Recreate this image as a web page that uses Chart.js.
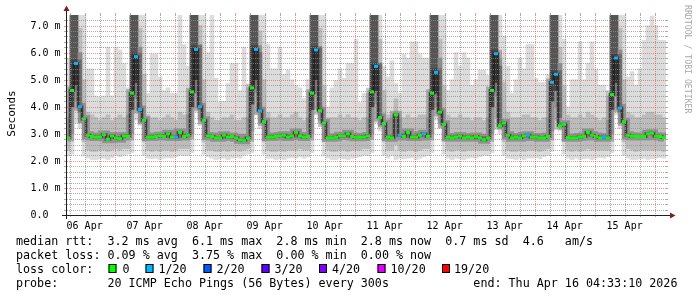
<!DOCTYPE html>
<html>
<head>
<meta charset="utf-8">
<script src="https://cdn.jsdelivr.net/npm/chart.js@4.4.1/dist/chart.umd.min.js"></script>
<style>
    html, body { margin: 0; padding: 0; background: #fff; }
    #wrap { width: 697px; height: 297px; }
</style>
</head>
<body>
<div id="wrap"><canvas id="grafico" width="697" height="297"></canvas></div>
<script>
// start of graph: 06 Apr 04:33:10, hours counted from 06 Apr 00:00
const T0 = 4 + 33 / 60 + 10 / 3600;
const STEP = 1.6;
const Y_MAX = 7.39;

const dayLabels = ['06 Apr','07 Apr','08 Apr','09 Apr','10 Apr','11 Apr','12 Apr','13 Apr','14 Apr','15 Apr'];
const yTicks = [0, 1, 2, 3, 4, 5, 6, 7];

// median rtt (ms), one value per 1.6 h
const median = [
    2.85, 4.6, 5.6, 4.0, 3.55, 2.95, 2.9, 2.88, 2.88, 2.97, 2.8, 2.92, 2.85, 2.82, 2.92,
    2.9, 4.5, 5.85, 3.9, 3.5, 2.88, 2.88, 2.9, 2.93, 2.9, 3.0, 2.88, 2.88, 3.05, 2.9,
    2.95, 4.55, 6.12, 4.0, 3.5, 2.92, 2.9, 2.85, 2.85, 2.95, 2.88, 2.9, 2.85, 2.78, 2.76,
    2.85, 4.7, 6.12, 3.85, 3.45, 2.88, 2.88, 2.9, 2.92, 2.95, 2.88, 2.92, 3.05, 2.92, 2.88,
    2.9, 4.5, 6.1, 3.85, 3.4, 2.85, 2.85, 2.87, 2.93, 2.92, 3.0, 2.9, 2.87, 2.87, 2.88,
    2.92, 4.55, 5.49, 3.6, 3.38, 2.88, 2.85, 3.7, 2.95, 2.9, 3.05, 2.88, 2.88, 2.95, 3.0,
    2.9, 4.5, 5.27, 3.8, 3.35, 2.88, 2.85, 2.88, 2.92, 2.85, 2.88, 2.85, 2.9, 2.85, 2.78,
    2.85, 4.6, 5.96, 3.3, 3.4, 2.95, 2.85, 2.88, 2.85, 2.92, 2.95, 2.88, 2.88, 2.85, 2.85,
    2.9, 4.9, 5.2, 3.3, 3.35, 2.86, 2.85, 2.85, 2.88, 2.9, 3.05, 2.95, 2.9, 2.85, 2.88,
    2.85, 4.45, 5.8, 3.95, 3.45, 2.95, 2.91, 2.9, 2.9, 2.9, 3.0, 3.02, 2.91, 2.9, 2.86
];

// samples with 1/20 packet loss
const loss1 = [2, 3, 17, 18, 27, 32, 33, 47, 48, 62, 77, 83, 89, 92, 107, 115, 121, 122, 134, 137, 138];

// smoke: lowest ping, lower / upper inner band, highest ping
const smokeLo = [
    2.2, 2.25, 3.4, 3.2, 2.2, 2.1, 2.05, 2.05, 2.08, 2.1, 2.05, 2.12, 2.2, 2.15, 2.2,
    2.25, 2.3, 3.5, 3.3, 2.2, 2.1, 2.08, 2.1, 2.05, 2.1, 2.12, 2.1, 2.15, 2.2, 2.2,
    2.2, 2.3, 3.8, 3.3, 2.25, 2.15, 2.1, 2.05, 2.08, 2.1, 2.05, 2.1, 2.12, 2.1, 2.2,
    2.25, 2.3, 3.7, 3.2, 2.25, 2.1, 2.1, 2.05, 2.08, 2.05, 2.1, 2.12, 2.1, 2.15, 2.1,
    2.15, 2.3, 3.9, 3.4, 2.2, 2.1, 2.05, 2.05, 2.1, 2.08, 2.05, 2.1, 2.12, 2.15, 2.2,
    2.2, 2.3, 3.4, 3.1, 2.2, 2.1, 2.2, 2.05, 2.1, 2.08, 2.1, 2.12, 2.05, 2.1, 2.15,
    2.2, 2.3, 3.5, 3.2, 2.25, 2.1, 2.05, 2.1, 2.08, 2.05, 2.1, 2.12, 2.1, 2.15, 2.2,
    2.2, 2.3, 3.6, 3.0, 2.2, 2.1, 2.08, 2.05, 2.1, 2.05, 2.1, 2.1, 2.12, 2.08, 2.15,
    2.2, 2.35, 3.5, 3.1, 2.25, 2.1, 2.05, 2.1, 2.05, 2.08, 2.1, 2.05, 2.1, 2.12, 2.1,
    2.15, 2.3, 3.7, 3.2, 2.2, 2.1, 2.05, 2.05, 2.08, 2.1, 2.05, 2.08, 2.1, 2.12, 2.1
];
const smokeQ1 = [
    2.4, 3.0, 4.2, 3.4, 2.7, 2.4, 2.35, 2.35, 2.4, 2.4, 2.35, 2.4, 2.45, 2.4, 2.45,
    2.45, 3.0, 4.3, 3.4, 2.7, 2.4, 2.35, 2.4, 2.35, 2.4, 2.4, 2.35, 2.4, 2.45, 2.45,
    2.45, 3.0, 4.5, 3.5, 2.7, 2.4, 2.4, 2.35, 2.35, 2.4, 2.35, 2.4, 2.4, 2.35, 2.4,
    2.45, 3.1, 4.5, 3.4, 2.7, 2.4, 2.35, 2.35, 2.4, 2.35, 2.4, 2.4, 2.4, 2.45, 2.4,
    2.4, 3.0, 4.5, 3.5, 2.7, 2.4, 2.35, 2.35, 2.4, 2.4, 2.35, 2.4, 2.4, 2.4, 2.45,
    2.45, 3.0, 4.1, 3.3, 2.7, 2.4, 2.4, 2.6, 2.4, 2.35, 2.4, 2.4, 2.35, 2.4, 2.45,
    2.45, 3.0, 4.0, 3.4, 2.7, 2.4, 2.35, 2.4, 2.4, 2.35, 2.4, 2.4, 2.4, 2.4, 2.4,
    2.4, 3.0, 4.4, 3.2, 2.7, 2.4, 2.35, 2.35, 2.4, 2.35, 2.4, 2.4, 2.4, 2.35, 2.4,
    2.45, 3.1, 4.0, 3.3, 2.7, 2.4, 2.35, 2.4, 2.35, 2.4, 2.45, 2.4, 2.4, 2.4, 2.4,
    2.4, 3.0, 4.4, 3.4, 2.7, 2.45, 2.4, 2.35, 2.4, 2.4, 2.4, 2.4, 2.4, 2.4, 2.35
];
const smokeQ3 = [
    3.6, 7.39, 7.39, 6.9, 5.0, 3.8, 3.7, 3.6, 3.5, 3.6, 3.7, 3.5, 3.6, 3.7, 3.6,
    3.7, 7.39, 7.39, 6.9, 5.2, 3.7, 3.6, 3.6, 3.5, 3.6, 3.7, 3.6, 3.5, 3.8, 3.7,
    3.7, 7.39, 7.39, 7.0, 5.0, 3.8, 3.6, 3.5, 3.5, 3.6, 3.6, 3.7, 3.5, 3.5, 3.6,
    3.6, 7.39, 7.39, 6.8, 5.0, 3.8, 3.6, 3.6, 3.7, 3.6, 3.6, 3.7, 3.8, 3.6, 3.5,
    3.6, 7.39, 7.39, 6.9, 4.8, 3.6, 3.6, 3.6, 3.7, 3.6, 3.7, 3.6, 3.6, 3.5, 3.6,
    3.6, 7.39, 7.39, 6.5, 4.6, 3.7, 3.6, 4.3, 3.6, 3.6, 3.7, 3.6, 3.6, 3.7, 3.7,
    3.6, 7.39, 7.39, 6.5, 4.8, 3.7, 3.6, 3.6, 3.7, 3.6, 3.6, 3.5, 3.6, 3.6, 3.5,
    3.6, 7.39, 7.39, 5.8, 4.9, 3.8, 3.6, 3.6, 3.6, 3.7, 3.7, 3.6, 3.6, 3.5, 3.6,
    3.6, 7.39, 7.39, 6.2, 4.8, 3.7, 3.6, 3.6, 3.7, 3.6, 3.8, 3.7, 3.6, 3.5, 3.6,
    3.5, 7.39, 7.39, 6.9, 5.0, 3.8, 3.7, 3.6, 3.6, 3.7, 3.8, 3.8, 3.7, 3.7, 3.6
];
const smokeHi = [
    5.8, 7.39, 7.39, 7.39, 7.39, 5.4, 5.4, 4.4, 4.35, 4.4, 6.2, 4.4, 6.2, 6.1, 5.6,
    4.7, 7.39, 7.39, 7.39, 7.39, 4.5, 5.95, 5.95, 5.1, 4.6, 4.7, 4.5, 4.5, 7.39, 6.3,
    5.5, 7.39, 7.39, 7.39, 7.39, 6.0, 7.39, 5.05, 4.17, 4.2, 4.86, 5.6, 5.6, 4.6, 6.2,
    4.7, 7.39, 7.39, 7.39, 7.39, 6.3, 5.4, 5.4, 6.2, 5.2, 5.35, 5.0, 4.8, 4.7, 4.3,
    5.0, 7.39, 7.39, 7.39, 7.39, 4.0, 4.7, 4.97, 5.4, 5.05, 5.6, 5.6, 6.5, 4.16, 4.5,
    4.5, 7.39, 7.39, 7.39, 5.5, 5.1, 5.7, 4.86, 4.5, 5.95, 5.8, 6.4, 6.4, 5.95, 5.8,
    5.8, 7.39, 7.39, 7.39, 7.39, 4.6, 5.0, 6.0, 5.5, 6.0, 5.8, 4.8, 5.0, 5.35, 5.35,
    5.15, 7.39, 7.39, 7.39, 6.6, 5.5, 4.5, 5.0, 5.8, 5.4, 6.3, 6.3, 5.05, 4.9, 4.9,
    5.2, 7.39, 7.39, 7.39, 6.5, 4.0, 5.0, 5.0, 6.4, 5.0, 5.6, 6.4, 5.4, 4.8, 4.8,
    4.4, 7.39, 7.39, 7.39, 7.39, 5.1, 5.3, 4.8, 5.4, 6.45, 7.0, 7.35, 7.0, 6.45, 6.45
];

// dense smoke of the daily spikes, and the sample right after each spike
const peakCols = [1,2, 16,17, 31,32, 46,47, 61,62, 76,77, 91,92, 106,107, 121,122, 136,137];
const peakLo = [4.0,4.8, 3.9,4.9, 4.0,5.0, 4.1,5.0, 3.9,5.0, 4.0,4.6, 3.9,4.5, 4.0,4.9, 4.2,4.6, 3.9,4.9];
const peakHi = [7.39,7.39, 7.39,7.39, 7.39,7.39, 7.39,7.39, 7.39,7.39, 7.39,7.39, 7.39,7.39, 7.39,7.39, 7.39,7.39, 7.39,7.39];
const afterCols = [3, 18, 33, 48, 63, 78, 93, 108, 123, 138];
const afterLo = [3.8, 3.8, 3.9, 3.8, 3.8, 3.6, 3.7, 3.5, 3.6, 3.8];
const afterHi = [6.0, 6.2, 6.3, 6.0, 6.2, 5.6, 5.8, 5.5, 5.6, 6.1];

const lossColors = [
    ['0', '#00ff00', 108.5, 122.6], ['1/20', '#00b8ff', 145.5, 158.5], ['2/20', '#0059ff', 203.5, 216.5],
    ['3/20', '#5e00ff', 261.5, 274.5], ['4/20', '#7e00ff', 319, 332], ['10/20', '#dd00ff', 377.5, 390.5],
    ['19/20', '#ff0000', 442, 454]
];

const xc = i => T0 + STEP * (i + 0.5);
const pts = arr => arr.map((v, i) => ({ x: xc(i), y: v }));
const bands = (a, b) => a.map((v, i) => ({ x: xc(i), y: [v, b[i]] }));
const colBands = (cols, lo, hi) => cols.map((c, k) => ({ x: xc(c), y: [lo[k], hi[k]] }));

const MONO = '"DejaVu Sans Mono", monospace';

const rrdGrid = {
    id: 'rrdGrid',
    beforeDraw(chart) {
        const c = chart.ctx;
        c.save();
        c.fillStyle = '#fff';
        c.fillRect(0, 0, chart.width, chart.height);
        c.restore();
    },
    afterDatasetsDraw(chart) {
        const { ctx, chartArea: a, scales: { x, y } } = chart;
        const L = a.left, R = a.right, T = a.top, B = a.bottom;
        const seg = (x1, y1, x2, y2) => { ctx.beginPath(); ctx.moveTo(x1, y1); ctx.lineTo(x2, y2); ctx.stroke(); };
        ctx.save();
        ctx.lineWidth = 1;

        const hGrid = (k, col) => {
            const py = Math.round(y.getPixelForValue(k / 5)) + 0.5;
            ctx.strokeStyle = col;
            ctx.setLineDash([]);
            seg(L - 2, py, L, py); seg(R, py, R + 2, py);
            ctx.setLineDash([1, 1]);
            seg(L + 1, py, R, py);
        };
        const vGrid = (h, col) => {
            const px = Math.round(x.getPixelForValue(h)) + 0.5;
            ctx.strokeStyle = col;
            ctx.setLineDash([]);
            seg(px, B, px, B + 2); seg(px, T - 2, px, T);
            ctx.setLineDash([1, 1]);
            seg(px, T, px, B);
        };
        const minor = 'rgba(143,143,143,0.75)';
        const major = 'rgba(222,79,79,0.6)';
        for (let k = 1; k / 5 < Y_MAX; k++) if (k % 5) hGrid(k, minor);
        for (let h = 6; h < T0 + 240; h += 6) if (h % 24) vGrid(h, minor);
        for (let k = 5; k / 5 < Y_MAX; k += 5) hGrid(k, major);
        for (let h = 24; h < T0 + 240; h += 24) vGrid(h, major);

        // axes and arrows
        ctx.setLineDash([]);
        ctx.strokeStyle = '#1f1f1f';
        seg(L - 4, B + 0.5, R + 4, B + 0.5);
        seg(L + 0.5, B + 4, L + 0.5, T - 4);
        ctx.fillStyle = '#801f1f';
        ctx.beginPath(); ctx.moveTo(R + 4, B - 2.5); ctx.lineTo(R + 4, B + 3.5); ctx.lineTo(R + 9.5, B + 0.5); ctx.fill();
        ctx.beginPath(); ctx.moveTo(L - 2.5, T - 4); ctx.lineTo(L + 3.5, T - 4); ctx.lineTo(L + 0.5, T - 9.5); ctx.fill();
        ctx.restore();
    },
    afterDraw(chart) {
        const { ctx, scales: { x, y } } = chart;
        ctx.save();
        ctx.fillStyle = '#000';

        // y tick labels
        ctx.font = '10px ' + MONO;
        ctx.textAlign = 'right';
        ctx.textBaseline = 'middle';
        yTicks.forEach(v => {
            const txt = v.toFixed(1) + ' ' + (v === 0 ? ' ' : 'm');
            ctx.fillText(txt, 60.5, y.getPixelForValue(v) + 0.5);
        });

        // x tick labels at noon
        ctx.font = '10px ' + MONO;
        ctx.textAlign = 'center';
        ctx.textBaseline = 'alphabetic';
        dayLabels.forEach((d, k) => ctx.fillText(d, x.getPixelForValue(12 + 24 * k), 229));

        // vertical axis title
        ctx.save();
        ctx.font = '11px ' + MONO;
        ctx.translate(15, 113.5);
        ctx.rotate(-Math.PI / 2);
        ctx.fillText('Seconds', 0, 0);
        ctx.restore();

        // watermark
        ctx.save();
        ctx.fillStyle = '#a8a8a8';
        ctx.font = '8.2px ' + MONO;
        ctx.textAlign = 'left';
        ctx.translate(685, 5);
        ctx.rotate(Math.PI / 2);
        ctx.fillText('RRDTOOL / TOBI OETIKER', 0, 0);
        ctx.restore();

        // legend block
        ctx.font = '11.7px ' + MONO;
        ctx.textAlign = 'left';
        ctx.fillText('median rtt:  3.2 ms avg  6.1 ms max  2.8 ms min  2.8 ms now  0.7 ms sd  4.6   am/s', 16, 245);
        ctx.fillText('packet loss: 0.09 % avg  3.75 % max  0.00 % min  0.00 % now', 16, 259);
        ctx.fillText('loss color:', 16, 273);
        lossColors.forEach(([lab, col, bx, tx]) => {
            ctx.fillStyle = col;
            ctx.fillRect(bx, 264, 8, 9);
            ctx.strokeStyle = '#000';
            ctx.lineWidth = 1;
            ctx.strokeRect(bx + 0.5, 264.5, 7, 8);
            ctx.fillStyle = '#000';
            ctx.fillText(lab, tx, 273);
        });
        ctx.fillText('probe:       20 ICMP Echo Pings (56 Bytes) every 300s            end: Thu Apr 16 04:33:10 2026', 16, 287);
        ctx.restore();
    }
};

const barBase = { type: 'bar', grouped: false, barThickness: 4, borderWidth: 0 };

new Chart(document.getElementById('grafico'), {
    type: 'bar',
    data: {
        datasets: [
            { ...barBase, data: bands(smokeLo, smokeHi), backgroundColor: '#dcdcdc', order: 10 },
            { ...barBase, data: bands(smokeQ1, smokeQ3), backgroundColor: '#bcbcbc', order: 9 },
            { ...barBase, data: colBands(afterCols, afterLo, afterHi), backgroundColor: '#8c8c8c', order: 8 },
            { ...barBase, data: colBands(peakCols, peakLo, peakHi), backgroundColor: '#555555', order: 8 },
            { type: 'line', data: pts(median), stepped: 'middle', borderColor: 'rgba(0,0,0,0.22)', borderWidth: 8, pointRadius: 0, order: 7 },
            { type: 'line', data: pts(median), stepped: 'middle', borderColor: 'rgba(0,0,0,0.4)', borderWidth: 3, pointRadius: 0, order: 6 },
            { type: 'line', data: pts(median), stepped: 'middle', borderColor: '#202020', borderWidth: 1, pointRadius: 0, order: 2 },
            {
                type: 'line', data: pts(median), showLine: false, pointStyle: 'line',
                pointRadius: 2, pointBorderWidth: 3,
                pointBorderColor: median.map((v, i) => loss1.includes(i) ? '#00b8ff' : '#00ff00'),
                order: 1
            }
        ]
    },
    options: {
        responsive: false,
        animation: false,
        events: [],
        layout: { padding: { left: 66, top: 15, right: 31, bottom: 82 } },
        plugins: { legend: { display: false }, tooltip: { enabled: false } },
        scales: {
            x: { type: 'linear', min: T0, max: T0 + 240, offset: false, display: false },
            y: { type: 'linear', min: 0, max: Y_MAX, display: false }
        }
    },
    plugins: [rrdGrid]
});
</script>
</body>
</html>
